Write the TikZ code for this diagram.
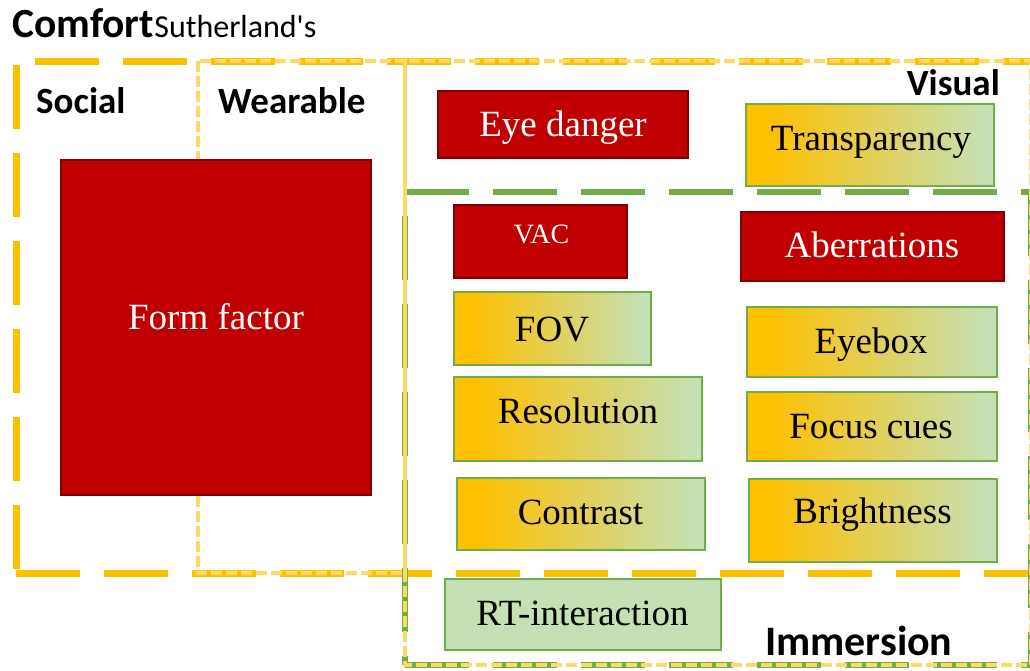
\documentclass[tikz,border=0pt]{standalone}
\usepackage{fontspec}
\setmainfont{Liberation Serif}
\newfontfamily\uisans{Carlito}
\definecolor{comfortC}{HTML}{FFC000}
\definecolor{paleC}{HTML}{FFD966}
\definecolor{leafC}{HTML}{70AD47}
\definecolor{mintC}{HTML}{C5E0B4}
\definecolor{alertC}{HTML}{C00000}
\definecolor{alertEdge}{HTML}{7F0000}
% orange on the left, fading to pale green on the right
\pgfdeclarehorizontalshading{warmcool}{100bp}{color(0bp)=(comfortC); color(29bp)=(comfortC); color(73bp)=(mintC); color(100bp)=(mintC)}

\begin{document}
\begin{tikzpicture}[x=1pt,y=-1pt,
  comfortline/.style={draw=comfortC, line width=7pt, dash pattern=on 64pt off 24pt},
  immline/.style={draw=leafC, line width=6pt, dash pattern=on 64pt off 24pt},
  paleline/.style={draw=paleC, line width=4.5pt, dash pattern=on 11pt off 4pt},
  redbox/.style={draw=alertEdge, fill=alertC, line width=2.5pt, inner sep=0pt},
  gradbox/.style={draw=leafC, shading=warmcool, line width=2.5pt, inner sep=0pt},
  mintbox/.style={draw=leafC, fill=mintC, line width=2.5pt, inner sep=0pt},
  redtext/.style={text=white, inner sep=0pt, anchor=base, font=\fontsize{37}{40}\selectfont},
  darktext/.style={text=black, inner sep=0pt, anchor=base, font=\fontsize{37}{40}\selectfont},
  headtext/.style={inner sep=0pt, text=black},
]
\useasboundingbox (0,0) rectangle (1030,670);
\clip (0,0) rectangle (1030,670);

% Comfort frame
\draw[comfortline] (35,61) -- (1045,61);
\draw[comfortline] (16,65) -- (16,573);
\draw[comfortline] (16,573) -- (1045,573);

% Immersion frame
\draw[immline] (405,192) -- (1031,192);
\draw[immline, dash phase=64pt] (405,192) -- (405,665);
\draw[immline] (405,665) -- (1031,665);
\draw[immline] (1031,192) -- (1031,665);

% Wearable and Visual frames
\draw[paleline] (198,61) rectangle (405,573);
\draw[paleline] (405,61) rectangle (1031,665);

% Boxes
\node[redbox, minimum width=310pt, minimum height=335pt] (form) at (216,327.5) {};
\node[redtext] (formT) at (216,329) {Form factor};

\node[redbox, minimum width=250pt, minimum height=67pt] (eye) at (563,124.5) {};
\node[redtext] (eyeT) at (563,136) {Eye danger};

\node[gradbox, minimum width=248pt, minimum height=82pt] (transp) at (870,145) {};
\node[darktext] (transpT) at (871,150) {Transparency};

\node[redbox, minimum width=173pt, minimum height=73pt] (vac) at (540.5,241.5) {};
\node[redtext, font=\fontsize{28}{30}\selectfont] (vacT) at (541.5,243) {VAC};

\node[redbox, minimum width=263pt, minimum height=69pt] (aber) at (872.5,246.5) {};
\node[redtext] (aberT) at (872,257) {Aberrations};

\node[gradbox, minimum width=197pt, minimum height=73pt] (fov) at (552.5,328.5) {};
\node[darktext] (fovT) at (552,341) {FOV};

\node[gradbox, minimum width=250pt, minimum height=70pt] (eyebox) at (872,342) {};
\node[darktext] (eyeboxT) at (871,353) {Eyebox};

\node[gradbox, minimum width=248pt, minimum height=84pt] (res) at (578,419) {};
\node[darktext] (resT) at (578,423) {Resolution};

\node[gradbox, minimum width=250pt, minimum height=69pt] (focus) at (872,426.5) {};
\node[darktext] (focusT) at (871,438) {Focus cues};

\node[gradbox, minimum width=248pt, minimum height=72pt] (contr) at (581,514) {};
\node[darktext] (contrT) at (580.5,524) {Contrast};

\node[gradbox, minimum width=248pt, minimum height=83pt] (bright) at (873,520.5) {};
\node[darktext] (brightT) at (872.5,523.5) {Brightness};

\node[mintbox, minimum width=276pt, minimum height=71pt] (rt) at (583,614.5) {};
\node[darktext] (rtT) at (582.5,625) {RT-interaction};

% Headings
\node[headtext, anchor=base west, font=\uisans\bfseries\fontsize{41.5}{44}\selectfont] (comfort) at (12,37) {Comfort};
\node[headtext, anchor=base west, font=\uisans\fontsize{32}{34}\selectfont] (sutherland) at (comfort.base east) {Sutherland's};
\node[headtext, anchor=base west, font=\uisans\bfseries\fontsize{37}{40}\selectfont] (social) at (36,113) {Social};
\node[headtext, anchor=base west, font=\uisans\bfseries\fontsize{37}{40}\selectfont] (wear) at (218,113) {Wearable};
\node[headtext, anchor=base east, font=\uisans\bfseries\fontsize{37}{40}\selectfont] (visual) at (1000,95) {Visual};
\node[headtext, anchor=base west, font=\uisans\bfseries\fontsize{42}{45}\selectfont] (immersion) at (765,655) {Immersion};
\end{tikzpicture}
\end{document}
